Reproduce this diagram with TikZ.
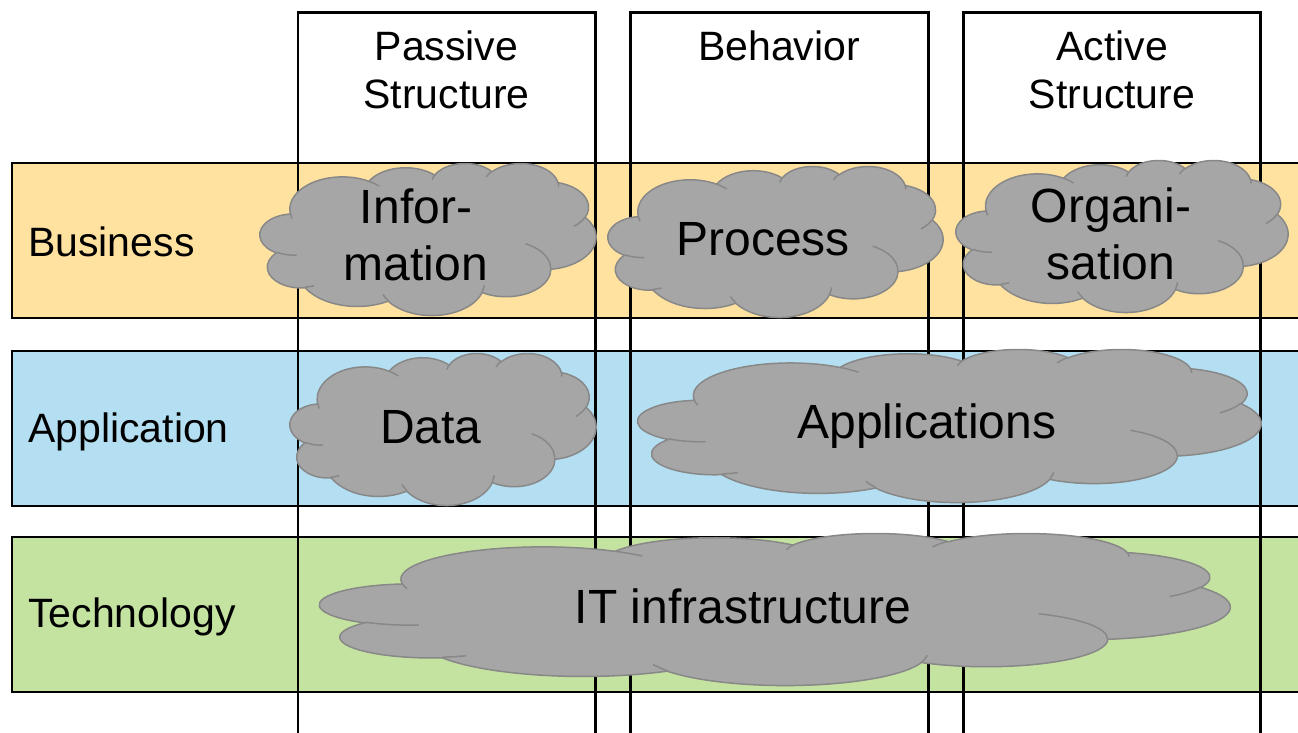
\documentclass[tikz,border=0pt]{standalone}
\usepackage{fontspec}
\setmainfont{Liberation Sans}
\definecolor{bizfill}{RGB}{255,226,160}
\definecolor{appfill}{RGB}{180,223,242}
\definecolor{techfill}{RGB}{197,227,160}
\definecolor{cloudgray}{RGB}{166,166,166}
\definecolor{cloudedge}{RGB}{136,136,136}

% one elliptical arc of a PowerPoint-like cloud (visual angles converted to parametric, in path space)
\newcommand\carc[4]{ arc[x radius=#1, y radius=#2,
  start angle={atan2(#1*sin(#3),#2*cos(#3))},
  delta angle={mod(atan2(#1*sin(#3+#4),#2*cos(#3+#4))-atan2(#1*sin(#3),#2*cos(#3))+720,360)}] }

\newcommand\drawcloud[4]{%
  \pgfmathsetmacro\csx{#3/432}%
  \pgfmathsetmacro\csy{#4/432}%
  \begin{scope}[shift={(#1,#2)}, x=\csx pt, y=-\csy pt]
    \path[cloudbody] (39,143.70)
      \carc{67.53}{91.90}{-190.4875}{123.7805}
      \carc{53.33}{72.67}{-144.1024}{89.9452}
      \carc{43.65}{59.45}{-145.8079}{99.7230}
      \carc{48.57}{65.95}{-130.9861}{117.2417}
      \carc{53.33}{72.73}{-78.7089}{109.0269}
      \carc{67.75}{92.20}{-46.2673}{130.2690}
      \carc{57.85}{78.67}{0.6250}{114.0333}
      \carc{67.52}{92.15}{22.4516}{115.1726}
      \carc{77.20}{105.43}{66.2426}{75.7110}
      \carc{43.60}{59.18}{-274.9421}{146.7356}
      \carc{43.45}{59.45}{-246.8285}{152.5189} -- cycle;
    \path[cloudinner]
      (46.93,261.77) \carc{43.45}{59.45}{86.7420}{26.4295}
      (69.28,348.99) \carc{43.60}{59.18}{73.6105}{11.4475}
      (164.78,390.90) \carc{67.52}{92.15}{137.6242}{14.0811}
      (288.27,347.51) \carc{67.52}{92.15}{6.4533}{15.9984}
      (341.29,229.54) \carc{57.85}{78.67}{-70.2924}{70.9174}
      (417.98,153.54) \carc{53.33}{72.73}{30.3180}{27.7515}
      (383.24,54.26) \carc{48.57}{65.95}{-13.7443}{14.8589}
      (290.78,39.52) \carc{48.57}{65.95}{-149.1815}{18.1954}
      (221.41,47.20) \carc{43.65}{59.45}{-163.4943}{17.6864}
      (140.00,51.92) \carc{67.53}{91.90}{-66.7070}{12.3194}
      (41.27,157.89) \carc{67.53}{91.90}{157.6544}{11.8582};
  \end{scope}}

\tikzset{
  band/.style={draw=black, line width=2pt, anchor=north west, inner sep=0pt, outer sep=0pt,
    minimum width=1320pt, minimum height=155pt},
  colline/.style={draw=black, line width=2.5pt},
  cloudbody/.style={fill=cloudgray, draw=cloudedge, line width=1.5pt},
  cloudinner/.style={draw=cloudedge, line width=1.5pt},
  hdr/.style={font=\fontsize{41}{48}\selectfont, align=center, inner sep=0pt},
  lbl/.style={font=\fontsize{41}{48}\selectfont, anchor=base west, inner sep=0pt},
  ctxt/.style={font=\fontsize{48}{57.6}\selectfont, align=center, inner sep=0pt},
}

\begin{document}
\begin{tikzpicture}[x=1pt, y=-1pt]
  \useasboundingbox (0,0) rectangle (1298,732);
  \fill[white] (0,0) rectangle (1298,732);
  \clip (0,0) rectangle (1298,732);

  % layer bands
  \node[band, fill=bizfill] (bizband) at (12,163) {};
  \node[band, fill=appfill] (appband) at (12,350.5) {};
  \node[band, fill=techfill] (techband) at (12,537) {};

  % aspect columns (open at the bottom)
  \draw[colline] (298,745) -- (298,12.5) -- (595.5,12.5) -- (595.5,745);
  \draw[colline] (630.5,745) -- (630.5,12.5) -- (928.5,12.5) -- (928.5,745);
  \draw[colline] (963.5,745) -- (963.5,12.5) -- (1260.5,12.5) -- (1260.5,745);

  % column headers
  \node[hdr] (passive) at (446.5,70) {Passive\\Structure};
  \node[hdr, anchor=base] (behavior) at (779,60) {Behavior};
  \node[hdr] (active) at (1112,70) {Active\\Structure};

  % band labels
  \node[lbl] (business) at (28,256) {Business};
  \node[lbl] (application) at (28,442) {Application};
  \node[lbl] (technology) at (28,627) {Technology};

  % clouds
  \drawcloud{260}{163}{336}{152}
  \drawcloud{608}{166}{335}{151}
  \drawcloud{956}{160}{332}{152}
  \drawcloud{290}{353}{306}{152}
  \drawcloud{638}{349}{623}{153}
  \drawcloud{320}{533}{910}{152}

  % cloud texts
  \node[ctxt] (information) at (416,235) {Infor-\\mation};
  \node[ctxt, anchor=base] (process) at (763,255) {Process};
  \node[ctxt] (organisation) at (1111,234) {Organi-\\sation};
  \node[ctxt, anchor=base] (data) at (431,443) {Data};
  \node[ctxt, anchor=base] (applications) at (927,438) {Applications};
  \node[ctxt, anchor=base] (itinfra) at (743,623) {IT infrastructure};
\end{tikzpicture}
\end{document}
